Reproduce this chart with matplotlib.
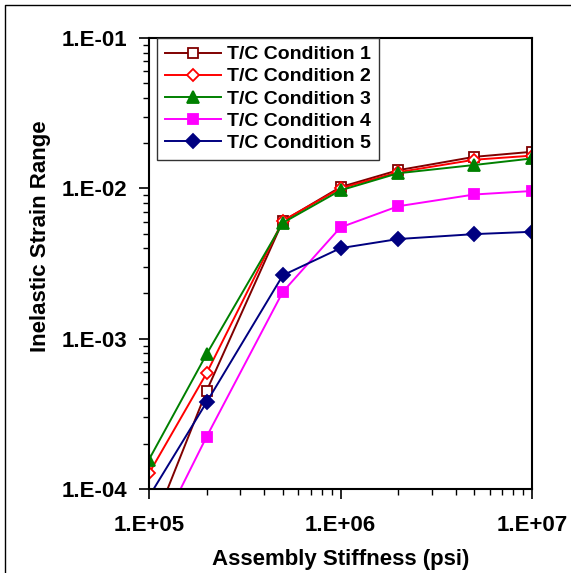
import math
import matplotlib
matplotlib.use("Agg")
import matplotlib.pyplot as plt
from matplotlib.lines import Line2D
from matplotlib.ticker import FixedLocator, LogLocator, NullFormatter, FuncFormatter

plt.rcParams['font.family'] = ['Liberation Sans', 'DejaVu Sans']
plt.rcParams['font.weight'] = 'bold'

stiffness = [1e5, 2e5, 5e5, 1e6, 2e6, 5e6, 1e7]
labels = ["T/C Condition 1", "T/C Condition 2", "T/C Condition 3",
          "T/C Condition 4", "T/C Condition 5"]
cond1 = [4.9e-5, 4.5e-4, 6.05e-3, 1.02e-2, 1.32e-2, 1.62e-2, 1.75e-2]
cond2 = [1.27e-4, 5.9e-4, 6.1e-3, 1.0e-2, 1.28e-2, 1.55e-2, 1.65e-2]
cond3 = [1.57e-4, 7.9e-4, 5.9e-3, 9.7e-3, 1.26e-2, 1.43e-2, 1.58e-2]
cond4 = [3.8e-5, 2.23e-4, 2.05e-3, 5.5e-3, 7.6e-3, 9.1e-3, 9.6e-3]
cond5 = [8.9e-5, 3.78e-4, 2.64e-3, 4.0e-3, 4.6e-3, 4.96e-3, 5.14e-3]
series = [cond1, cond2, cond3, cond4, cond5]

colors = ['#800000', '#FF0000', '#008000', '#FF00FF', '#000080']
markers = ['s', 'D', '^', 's', 'D']
faces = ['white', 'white', '#008000', '#FF00FF', '#000080']
msizes = [7, 6.5, 8.5, 7, 7]

fig = plt.figure(figsize=(5.71, 5.73), dpi=100)
ax = fig.add_axes([149/571, 1 - 489/573, 383/571, 451/573])

for vals, lab, c, m, fc, ms in zip(series, labels, colors, markers, faces, msizes):
    ax.plot(stiffness, vals, color=c, marker=m, markerfacecolor=fc,
            markeredgecolor=c, markersize=ms, markeredgewidth=1.3,
            linewidth=1.4, label=lab, clip_on=True)

ax.set_xscale('log')
ax.set_yscale('log')
ax.set_xlim(1e5, 1e7)
ax.set_ylim(1e-4, 1e-1)

fmt_x = FuncFormatter(lambda v, p: "1.E+%02d" % round(math.log10(v)))
fmt_y = FuncFormatter(lambda v, p: "1.E-%02d" % round(-math.log10(v)))
ax.xaxis.set_major_locator(FixedLocator([1e5, 1e6, 1e7]))
ax.yaxis.set_major_locator(FixedLocator([1e-4, 1e-3, 1e-2, 1e-1]))
ax.xaxis.set_major_formatter(fmt_x)
ax.yaxis.set_major_formatter(fmt_y)
ax.xaxis.set_minor_locator(LogLocator(base=10, subs=range(2, 10)))
ax.yaxis.set_minor_locator(LogLocator(base=10, subs=range(2, 10)))
ax.xaxis.set_minor_formatter(NullFormatter())
ax.yaxis.set_minor_formatter(NullFormatter())

ax.tick_params(which='major', direction='out', length=7, width=1.2,
               labelsize=16, top=False, right=False)
ax.tick_params(which='minor', direction='out', length=4.5, width=1.0,
               top=False, right=False)
ax.tick_params(axis='y', which='major', pad=9)
ax.tick_params(axis='x', which='major', pad=12)
for lbl in ax.get_xticklabels() + ax.get_yticklabels():
    lbl.set_fontweight('bold')

for s in ax.spines.values():
    s.set_linewidth(1.5)
    s.set_color('black')

ax.set_xlabel("Assembly Stiffness (psi)", fontsize=16, fontweight='bold', labelpad=9)
ax.set_ylabel("Inelastic Strain Range", fontsize=16, fontweight='bold')
ax.yaxis.set_label_coords(-0.256, 0.561)

leg = ax.legend(loc='upper left', bbox_to_anchor=(0.0217, 1.0), borderaxespad=0,
                prop={'weight': 'bold', 'size': 14},
                frameon=True, fancybox=False, edgecolor='#333333',
                handlelength=2.9, handletextpad=0.28, labelspacing=0.23,
                borderpad=0.4, framealpha=1)
leg.get_frame().set_linewidth(1.0)

fig.add_artist(Line2D([5/571, 5/571, 1.0], [0.0, 1 - 5/573, 1 - 5/573],
                      transform=fig.transFigure, color='black', linewidth=1.0))

fig.savefig("out.png", dpi=100)
